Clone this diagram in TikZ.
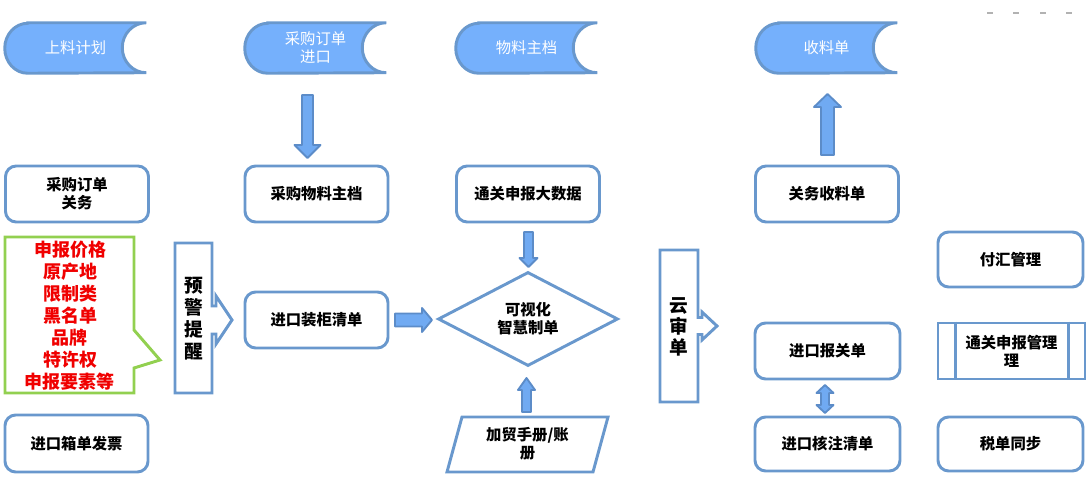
\documentclass[tikz,border=0pt]{standalone}
\usepackage{fontspec}
\setmainfont{Noto Sans CJK SC}
\usetikzlibrary{shapes.geometric,backgrounds,calc}
\definecolor{bord}{RGB}{105,152,205}
\definecolor{topfill}{RGB}{117,176,252}
\definecolor{arrfill}{RGB}{112,170,242}
\definecolor{arrbord}{RGB}{92,140,200}
\definecolor{callgreen}{RGB}{146,208,80}
\definecolor{callred}{RGB}{240,0,0}
% block arrow: tail x, tail y, angle, length, shaft half, head half, head length
\newcommand\barrow[7]{%
  \draw[arrst, shift={(#1,#2)}, rotate=#3] (0,-#5) -- ({#4-#7},-#5) -- ({#4-#7},-#6) -- (#4,0) -- ({#4-#7},#6) -- ({#4-#7},#5) -- (0,#5) -- cycle;}
\newcommand\topshape[1]{%
  \draw[topst] ([xshift=17.25pt]#1.north west) -- (#1.north east)
    arc[start angle=90,end angle=270,x radius=18pt,y radius=18.75pt]
    -- ([xshift=17.25pt]#1.south west)
    arc[start angle=270,end angle=90,x radius=17.25pt,y radius=18.75pt] -- cycle;}
\begin{document}
\begin{tikzpicture}[x=0.75pt,y=0.75pt,
  box/.style={draw=bord,line width=2.2pt,rounded corners=8pt,fill=white,minimum height=42pt,minimum width=107.25pt,align=center,font=\fontsize{11.5}{13.5}\selectfont\bfseries,inner sep=0pt},
  toplab/.style={minimum width=105.75pt,minimum height=37.5pt,inner sep=0pt,align=center,text=white,font=\fontsize{11.5}{13.5}\selectfont},
  topst/.style={draw=bord,line width=2.2pt,fill=topfill},
  arrst/.style={draw=arrbord,line width=1.4pt,fill=arrfill,line join=round},
  outl/.style={draw=bord,line width=2.2pt,fill=white},
  plain/.style={inner sep=0pt,align=center,font=\fontsize{11.5}{13.5}\selectfont\bfseries},
  vert/.style={inner sep=0pt,align=center,font=\fontsize{14}{16.5}\selectfont\bfseries}
]
\useasboundingbox (0,0) rectangle (1090,482);

% top stored-data shapes
\node[toplab] (t1) at (75.5,434) {上料计划};
\node[toplab] (t2) at (315.5,434) {采购订单\\进口};
\node[toplab] (t3) at (526.5,434) {物料主档};
\node[toplab] (t4) at (826.5,434) {收料单};
\begin{pgfonlayer}{background}
\topshape{t1}\topshape{t2}\topshape{t3}\topshape{t4}
\end{pgfonlayer}

% small gray dashes top right
\foreach \xx in {987,1013,1040,1066} \draw[gray!60,line width=0.9pt] (\xx,469) -- ++(6,0);

% row of boxes
\node[box] (b1) at (77,288) {采购订单\\关务};
\node[box] (b2) at (316.5,288) {采购物料主档};
\node[box] (b3) at (528,288) {通关申报大数据};
\node[box] (b4) at (827,288) {关务收料单};

\node[box] (load) at (316.5,162) {进口装柜清单};
\node[box,minimum height=42.75pt] (inv) at (76.5,38.5) {进口箱单发票};

\node[box,minimum width=108.75pt,minimum height=41.25pt] (fx) at (1010.5,222.5) {付汇管理};
\node[box,minimum width=108.75pt] (dec) at (827.5,131) {进口报关单};
\node[box,minimum width=108.75pt,minimum height=40.5pt] (chk) at (827.5,38) {进口核注清单};
\node[box,minimum width=108.75pt,minimum height=40.5pt] (tax) at (1010.5,38) {税单同步};
\node[box,rounded corners=0pt,minimum width=110.25pt] (ppm) at (1011.5,131) {通关申报管理\\理};
\draw[bord,line width=2.2pt] ([xshift=14.25pt]ppm.north west) -- ([xshift=14.25pt]ppm.south west);
\draw[bord,line width=2.2pt] ([xshift=-13.5pt]ppm.north east) -- ([xshift=-13.5pt]ppm.south east);

% green callout with red text
\node[inner sep=0pt,align=center,text=callred,font=\fontsize{13.5}{16.5}\selectfont\bfseries] (note) at (70,166)
  {申报价格\\原产地\\限制类\\黑名单\\品牌\\特许权\\申报要素等};
\begin{pgfonlayer}{background}
\draw[draw=callgreen,line width=2.2pt,fill=white] (5,245) -- (134,245) -- (134,152) -- (160,122) -- (134,114) -- (134,89) -- (5,89) -- cycle;
\end{pgfonlayer}

% warning box with arrow
\node[vert] (warn) at (193.5,163) {预\\警\\提\\醒};
\begin{pgfonlayer}{background}
\draw[outl] (175,239) -- (212,239) -- (212,176) -- (216,176) -- (216,186) -- (232,162) -- (216,138) -- (216,148) -- (212,148) -- (212,89) -- (175,89) -- cycle;
\end{pgfonlayer}

% cloud review box with arrow
\node[vert,font=\fontsize{14}{15.75}\selectfont\bfseries] (cloud) at (679,155) {云\\审\\单};
\begin{pgfonlayer}{background}
\draw[outl] (660,232) -- (698,232) -- (698,164.5) -- (702,164.5) -- (702,170) -- (717,156) -- (702,142) -- (702,147.5) -- (698,147.5) -- (698,80) -- (660,80) -- cycle;
\end{pgfonlayer}

% diamond
\node[diamond,draw=bord,line width=2.2pt,fill=white,minimum width=135pt,minimum height=69pt,inner sep=0pt,align=center,font=\fontsize{11.5}{13.5}\selectfont\bfseries] (vis) at (528,163) {可视化\\智慧制单};

% parallelogram
\node[plain] (para) at (527.5,38) {加贸手册/账\\册};
\begin{pgfonlayer}{background}
\draw[outl] (447,10) -- (462,65) -- (608,65) -- (593,10) -- cycle;
\end{pgfonlayer}

% block arrows
\barrow{307.5}{387}{-90}{63}{5.5}{13}{13}
\barrow{827.5}{327}{90}{61}{6.5}{13.5}{13}
\barrow{528.5}{250}{-90}{35}{4.5}{9}{9}
\barrow{526.5}{70}{90}{34}{4.5}{8.5}{12}
\barrow{395}{162}{0}{37}{6.5}{12}{10}
\draw[arrst] (825,97) -- (833.5,89) -- (829,89) -- (829,77) -- (833.5,77) -- (825,69) -- (816.5,77) -- (821,77) -- (821,89) -- (816.5,89) -- cycle;
\end{tikzpicture}
\end{document}
